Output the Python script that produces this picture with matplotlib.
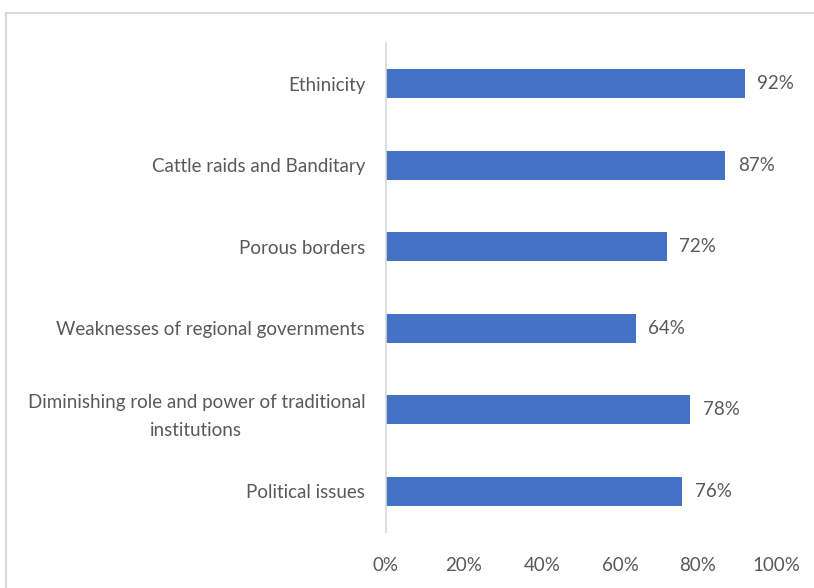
import matplotlib.pyplot as plt
from matplotlib.patches import Rectangle

categories = [
    "Ethinicity",
    "Cattle raids and Banditary",
    "Porous borders",
    "Weaknesses of regional governments",
    "Diminishing role and power of traditional\ninstitutions",
    "Political issues",
]
values = [92, 87, 72, 64, 78, 76]
xticks = [0, 20, 40, 60, 80, 100]

bar_color = "#4472C4"
text_color = "#595959"
line_color = "#D9D9D9"
fs = 13.5

plt.rcParams["font.family"] = ["Lato", "DejaVu Sans"]

fig = plt.figure(figsize=(8.14, 5.88), dpi=100)
ax = fig.add_axes([0.4742, 0.0952, 0.4791, 0.8317])

# chart border
fig.patches.append(Rectangle((6 / 814, -0.1), 1.2, 1.1 - 13 / 588,
                             transform=fig.transFigure, fill=False,
                             edgecolor=line_color, linewidth=1.5))

pos = list(range(len(categories)))
bars = ax.barh(pos, values, height=0.36, color=bar_color)
for p, v in zip(pos, values):
    ax.annotate(f"{v}%", (v, p), xytext=(9, 0), textcoords="offset points",
                va="center", ha="left", fontsize=fs, color=text_color)

ax.set_ylim(len(categories) - 0.5, -0.5)
ax.set_xlim(0, 100)
ax.set_yticks(pos)
ax.set_yticklabels(categories, fontsize=fs, color=text_color, ha="right",
                   multialignment="center", linespacing=1.75)
ax.tick_params(axis="y", length=0, pad=15)
ax.set_xticks(xticks)
ax.set_xticklabels([f"{t}%" for t in xticks], fontsize=fs, color=text_color)
ax.tick_params(axis="x", length=0, pad=18)

for side in ["top", "right", "bottom"]:
    ax.spines[side].set_visible(False)
ax.spines["left"].set_color(line_color)
ax.spines["left"].set_linewidth(1.2)

fig.savefig("out.png", dpi=100)
